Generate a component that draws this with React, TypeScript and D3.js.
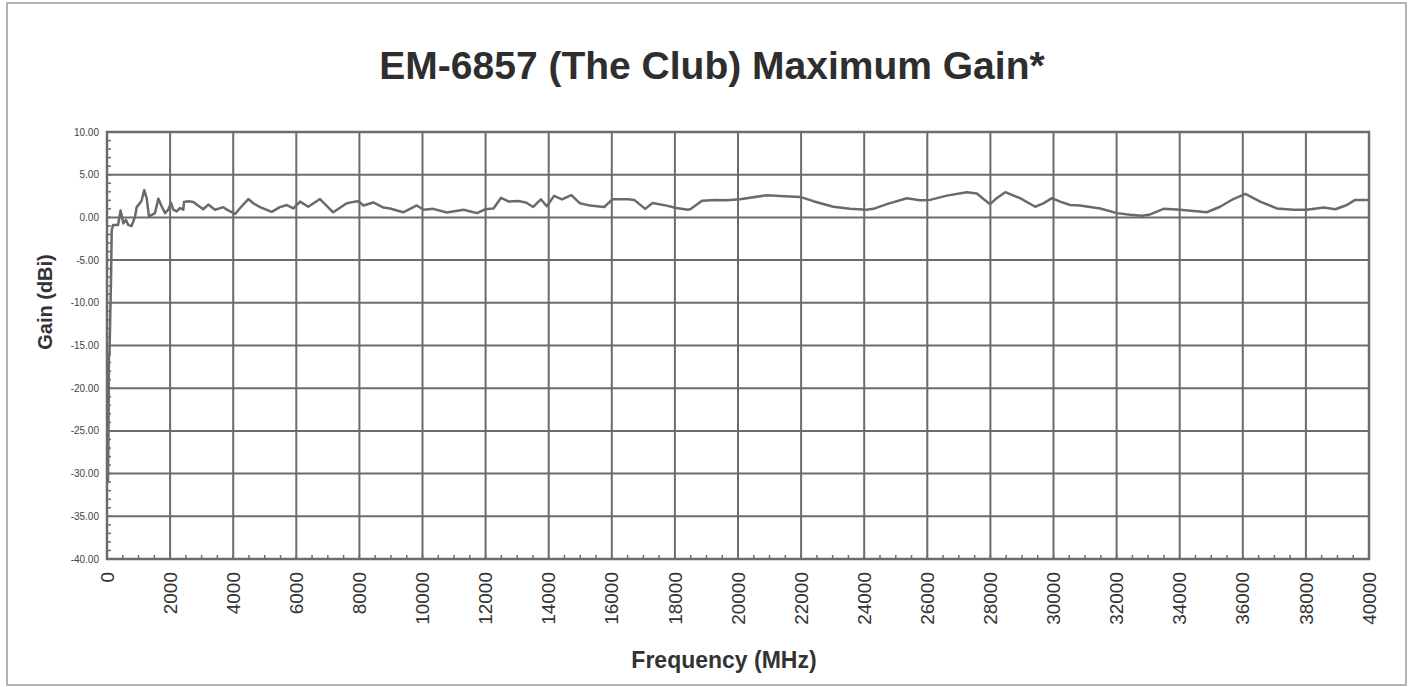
import { useEffect, useRef } from "react";
import * as d3 from "d3";

// frequency in MHz
const freqs = [
  30, 45, 60, 80, 100, 125, 150, 190, 350, 430, 520, 600, 675, 780, 890, 940,
  1050, 1100, 1180, 1260, 1330, 1420, 1520, 1630, 1730, 1840, 1940, 2030, 2100,
  2210, 2310, 2420, 2440, 2580, 2740, 2840, 3050, 3210, 3420, 3690, 3800, 4060,
  4220, 4480, 4640, 4850, 5220, 5480, 5700, 5910, 6120, 6380, 6750, 7170, 7600,
  7860, 7970, 8130, 8440, 8760, 8970, 9390, 9820, 10030, 10340, 10770, 11300,
  11730, 11980, 12250, 12490, 12740, 13030, 13280, 13510, 13750, 13940, 14170,
  14420, 14720, 14990, 15310, 15760, 16020, 16520, 16710, 17060, 17290, 17740,
  18040, 18420, 18510, 18860, 19300, 19640, 20070, 20910, 21330, 21970, 22390,
  23020, 23550, 24080, 24290, 24720, 25350, 25770, 26090, 26620, 27250, 27570,
  27780, 27990, 28200, 28470, 28940, 29420, 29680, 29950, 30210, 30530, 30840,
  31480, 32010, 32430, 32800, 33060, 33490, 34010, 34440, 34860, 35280, 35700,
  36080, 36550, 37080, 37610, 38030, 38560, 38930, 39300, 39560, 40000,
];

// gain in dBi
const gains = [
  -31, -27, -16.5, -16, -12, -7.7, -1.5, -0.9, -0.9, 0.8, -0.7, -0.3, -0.9, -1.0,
  0.1, 1.2, 1.7, 2.0, 3.2, 2.2, 0.1, 0.3, 0.5, 2.2, 1.3, 0.5, 0.9, 1.7, 0.9, 0.7,
  1.1, 0.9, 1.8, 1.9, 1.8, 1.5, 0.95, 1.5, 0.9, 1.2, 0.9, 0.4, 1.1, 2.15, 1.65,
  1.2, 0.65, 1.2, 1.45, 1.05, 1.85, 1.25, 2.15, 0.6, 1.65, 1.85, 1.9, 1.4, 1.75,
  1.15, 1.05, 0.6, 1.4, 0.9, 1.0, 0.58, 0.9, 0.5, 0.95, 1.05, 2.3, 1.85, 1.92,
  1.75, 1.22, 2.12, 1.3, 2.52, 2.1, 2.6, 1.65, 1.38, 1.22, 2.12, 2.12, 2.05, 1.0,
  1.68, 1.38, 1.1, 0.9, 1.0, 1.95, 2.05, 2.0, 2.12, 2.6, 2.5, 2.4, 1.9, 1.25, 1.0,
  0.9, 1.0, 1.55, 2.25, 2.0, 2.05, 2.55, 2.95, 2.8, 2.15, 1.55, 2.25, 2.95, 2.25,
  1.25, 1.65, 2.25, 1.85, 1.45, 1.4, 1.05, 0.5, 0.3, 0.2, 0.35, 1.0, 0.9, 0.75,
  0.6, 1.25, 2.15, 2.75, 1.85, 1.05, 0.9, 0.9, 1.15, 0.95, 1.45, 2.05, 2.05,
];

const xTicks = d3.range(0, 40001, 2000);
const yTicks = [10, 5, 0, -5, -10, -15, -20, -25, -30, -35, -40];

const title = "EM-6857 (The Club) Maximum Gain*";
const xTitle = "Frequency (MHz)";
const yTitle = "Gain (dBi)";

const GainChart = () => {
  const chartRef = useRef(null);

  useEffect(() => {
    const svg = d3.select(chartRef.current);
    svg.selectAll("*").remove();

    const W = 1410;
    const H = 687;
    const margin = { top: 132, right: 41, bottom: 128, left: 107 };
    const width = W - margin.left - margin.right;
    const height = H - margin.top - margin.bottom;
    const ink = "#6c6c6c";
    const font = "'Liberation Sans', Arial, sans-serif";

    svg.attr("width", W).attr("height", H);

    svg.append("rect").attr("width", W).attr("height", H).attr("fill", "#fff");
    svg
      .append("rect")
      .attr("x", 7)
      .attr("y", 3)
      .attr("width", 1399)
      .attr("height", 682)
      .attr("fill", "none")
      .attr("stroke", "#9a9a9a")
      .attr("stroke-width", 1.5);

    svg
      .append("text")
      .attr("x", 712)
      .attr("y", 79)
      .attr("text-anchor", "middle")
      .attr("font-family", font)
      .attr("font-weight", "bold")
      .attr("font-size", 39)
      .attr("fill", "#2e2e2e")
      .text(title);

    const g = svg
      .append("g")
      .attr("transform", `translate(${margin.left},${margin.top})`);

    const x = d3.scaleLinear().domain([0, 40000]).range([0, width]);
    const y = d3.scaleLinear().domain([-40, 10]).range([height, 0]);

    // grid
    g.selectAll(".hgrid")
      .data(yTicks)
      .enter()
      .append("line")
      .attr("x1", 0)
      .attr("x2", width)
      .attr("y1", (d) => y(d))
      .attr("y2", (d) => y(d))
      .attr("stroke", ink)
      .attr("stroke-width", 2);

    g.selectAll(".vgrid")
      .data(xTicks)
      .enter()
      .append("line")
      .attr("x1", (d) => x(d))
      .attr("x2", (d) => x(d))
      .attr("y1", 0)
      .attr("y2", height)
      .attr("stroke", ink)
      .attr("stroke-width", 2);

    // minor ticks
    g.selectAll(".xminor")
      .data(d3.range(0, 40001, 500))
      .enter()
      .append("line")
      .attr("x1", (d) => x(d))
      .attr("x2", (d) => x(d))
      .attr("y1", height)
      .attr("y2", height - 4)
      .attr("stroke", ink)
      .attr("stroke-width", 1.5);

    g.selectAll(".yminor")
      .data(d3.range(-40, 10.1, 1))
      .enter()
      .append("line")
      .attr("x1", 0)
      .attr("x2", 4)
      .attr("y1", (d) => y(d))
      .attr("y2", (d) => y(d))
      .attr("stroke", ink)
      .attr("stroke-width", 1.5);

    g.append("rect")
      .attr("width", width)
      .attr("height", height)
      .attr("fill", "none")
      .attr("stroke", ink)
      .attr("stroke-width", 2.5);

    // tick labels
    g.selectAll(".ylab")
      .data(yTicks)
      .enter()
      .append("text")
      .attr("x", -8)
      .attr("y", (d) => y(d))
      .attr("dy", "0.35em")
      .attr("text-anchor", "end")
      .attr("font-family", font)
      .attr("font-size", 10)
      .attr("fill", "#444")
      .text((d) => d3.format(".2f")(d).replace("−", "-"));

    g.selectAll(".xlab")
      .data(xTicks)
      .enter()
      .append("text")
      .attr(
        "transform",
        (d) => `translate(${x(d)},${height + 13}) rotate(-90)`
      )
      .attr("dy", "0.35em")
      .attr("text-anchor", "end")
      .attr("font-family", font)
      .attr("font-size", 19)
      .attr("fill", "#333")
      .text((d) => d);

    // trace
    const pts = freqs.map((f, i) => [f, gains[i]]);
    const line = d3
      .line()
      .x((d) => x(d[0]))
      .y((d) => y(d[1]));

    g.append("path")
      .datum(pts)
      .attr("d", line)
      .attr("fill", "none")
      .attr("stroke", "#6a6a6a")
      .attr("stroke-width", 2.5)
      .attr("stroke-linejoin", "round");

    // axis titles
    svg
      .append("text")
      .attr("x", 724)
      .attr("y", 668)
      .attr("text-anchor", "middle")
      .attr("font-family", font)
      .attr("font-weight", "bold")
      .attr("font-size", 23)
      .attr("fill", "#333")
      .text(xTitle);

    svg
      .append("text")
      .attr("transform", "translate(52,302) rotate(-90)")
      .attr("text-anchor", "middle")
      .attr("font-family", font)
      .attr("font-weight", "bold")
      .attr("font-size", 20)
      .attr("fill", "#333")
      .text(yTitle);
  }, []);

  return (
    <svg
      ref={chartRef}
      style={{ position: "absolute", left: 0, top: 0, display: "block" }}
    ></svg>
  );
};

export default GainChart;
